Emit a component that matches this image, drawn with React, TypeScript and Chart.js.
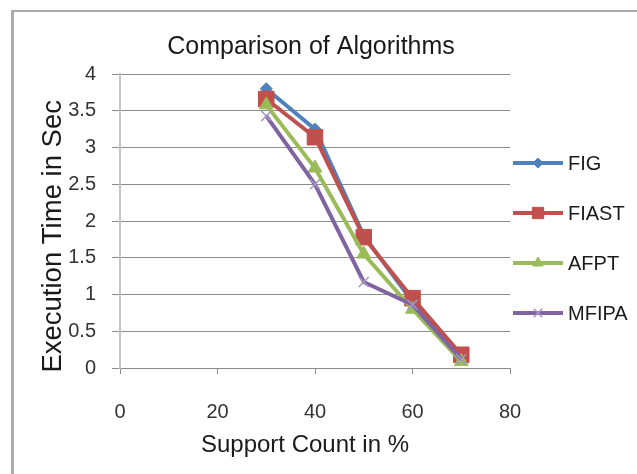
import React, { useEffect, useRef } from 'react';
import { Chart, registerables } from 'chart.js';
import { drawPoint } from 'chart.js/helpers';

Chart.register(...registerables);

const supportCounts = [30, 40, 50, 60, 70];
const figTimes = [3.8, 3.25, 1.8, 0.9, 0.15];
const fiastTimes = [3.66, 3.14, 1.78, 0.95, 0.18];
const afptTimes = [3.58, 2.72, 1.55, 0.8, 0.09];
const mfipaTimes = [3.43, 2.5, 1.17, 0.86, 0.12];
const seriesNames = ['FIG', 'FIAST', 'AFPT', 'MFIPA'];
const seriesColors = ['#4F81BD', '#C0504D', '#9BBB59', '#8064A2'];
const chartTitle = 'Comparison of Algorithms';
const xAxisTitle = 'Support Count in %   ';
const yAxisTitle = 'Execution Time in Sec    ';

const FONT = '"Liberation Sans", Arial, sans-serif';

const markerStyles = [
  { pointStyle: 'rectRot', radius: 6, legendRadius: 5, bw: 1, fill: '#4F81BD', stroke: '#4F81BD' },
  { pointStyle: 'rect', radius: 11, legendRadius: 8, bw: 1, fill: '#C0504D', stroke: '#C0504D' },
  { pointStyle: 'triangle', radius: 8, legendRadius: 6, bw: 1, fill: '#9BBB59', stroke: '#9BBB59' },
  { pointStyle: 'crossRot', radius: 7, legendRadius: 6, bw: 1.5, fill: '#A796C4', stroke: '#A796C4' },
];

const seriesValues = [figTimes, fiastTimes, afptTimes, mfipaTimes];

const legendPlugin = {
  id: 'sideLegend',
  afterDraw(chart: any) {
    const { ctx, chartArea } = chart;
    const x0 = chartArea.right + 3;
    const lineLen = 50;
    const mid = (chartArea.top + chartArea.bottom) / 2 + 17;
    const gap = 50;
    ctx.save();
    seriesNames.forEach((name, i) => {
      const y = mid + (i - 1.5) * gap;
      ctx.beginPath();
      ctx.strokeStyle = seriesColors[i];
      ctx.lineWidth = 4;
      ctx.moveTo(x0, y);
      ctx.lineTo(x0 + lineLen, y);
      ctx.stroke();
      const m = markerStyles[i];
      ctx.fillStyle = m.fill;
      ctx.strokeStyle = m.stroke;
      ctx.lineWidth = m.bw;
      drawPoint(ctx, { pointStyle: m.pointStyle, radius: m.legendRadius, borderWidth: m.bw, rotation: 0 } as any, x0 + lineLen / 2, y);
      ctx.fillStyle = '#1a1a1a';
      ctx.font = `20px ${FONT}`;
      ctx.textBaseline = 'middle';
      ctx.textAlign = 'left';
      ctx.fillText(name, x0 + lineLen + 5, y + 1);
    });
    ctx.restore();
  },
};

export default function App() {
  const ref = useRef<HTMLCanvasElement | null>(null);
  useEffect(() => {
    if (!ref.current) return;
    const datasets = seriesNames.map((name, i) => ({
      label: name,
      data: supportCounts.map((x, j) => ({ x, y: seriesValues[i][j] })),
      borderColor: seriesColors[i],
      backgroundColor: markerStyles[i].fill,
      pointBackgroundColor: markerStyles[i].fill,
      pointBorderColor: markerStyles[i].stroke,
      pointBorderWidth: markerStyles[i].bw,
      borderWidth: 4,
      pointStyle: markerStyles[i].pointStyle,
      pointRadius: markerStyles[i].radius,
      tension: 0,
      order: 4 - i,
      yAxisID: 'y',
    }));
    const chart = new Chart(ref.current, {
      type: 'line',
      data: { datasets },
      plugins: [legendPlugin],
      options: {
        animation: false,
        responsive: false,
        devicePixelRatio: 1,
        layout: { padding: { left: 12, right: 27, top: 14, bottom: 10 } },
        plugins: {
          legend: { display: false },
          tooltip: { enabled: false },
          title: {
            display: true,
            text: chartTitle,
            color: '#1a1a1a',
            font: { family: FONT, size: 25, weight: 'normal' },
            padding: { top: 18, bottom: 12 },
          },
        },
        scales: {
          x: {
            type: 'linear',
            min: 0,
            max: 80,
            ticks: { stepSize: 20, color: '#333', font: { family: FONT, size: 20 }, padding: 26 },
            grid: { display: true, drawOnChartArea: false, drawTicks: true, tickLength: 6, color: '#8c8c8c' },
            border: { display: true, color: '#8c8c8c', width: 1 },
            title: {
              display: true,
              text: xAxisTitle,
              color: '#1a1a1a',
              font: { family: FONT, size: 24 },
              padding: { top: 0, bottom: 4.6 },
            },
            afterFit: (s: any) => {
              s.height = 96;
            },
          },
          y: {
            position: 'left',
            min: 0,
            max: 4,
            ticks: {
              stepSize: 0.5,
              color: '#333',
              font: { family: FONT, size: 20 },
              padding: 16,
              callback: (v: any) => `${Number(v)}`,
            },
            grid: { color: '#8c8c8c', drawTicks: true, tickLength: 8 },
            border: { display: true, color: '#c4c4c4', width: 2 },
            title: {
              display: true,
              text: yAxisTitle,
              color: '#1a1a1a',
              font: { family: FONT, size: 27.5 },
              padding: { top: 24.5, bottom: 0 },
            },
            afterFit: (s: any) => {
              s.width = 108;
            },
          },
          y2: {
            position: 'right',
            min: 0,
            max: 4,
            ticks: { display: false },
            grid: { display: false, drawOnChartArea: false, drawTicks: false },
            border: { display: false },
            afterFit: (s: any) => {
              s.width = 100;
            },
          },
        },
      },
    });
    return () => chart.destroy();
  }, []);
  return (
    <div style={{ position: 'fixed', inset: 0, overflow: 'hidden', background: '#fff' }}>
      <div
        style={{
          position: 'absolute',
          left: 11,
          top: 10,
          width: 700,
          height: 500,
          borderLeft: '3px solid #ababab',
          borderTop: '2px solid #ababab',
        }}
      />
      <canvas ref={ref} width={637} height={474} style={{ position: 'absolute', left: 0, top: 0, display: 'block' }} />
    </div>
  );
}
